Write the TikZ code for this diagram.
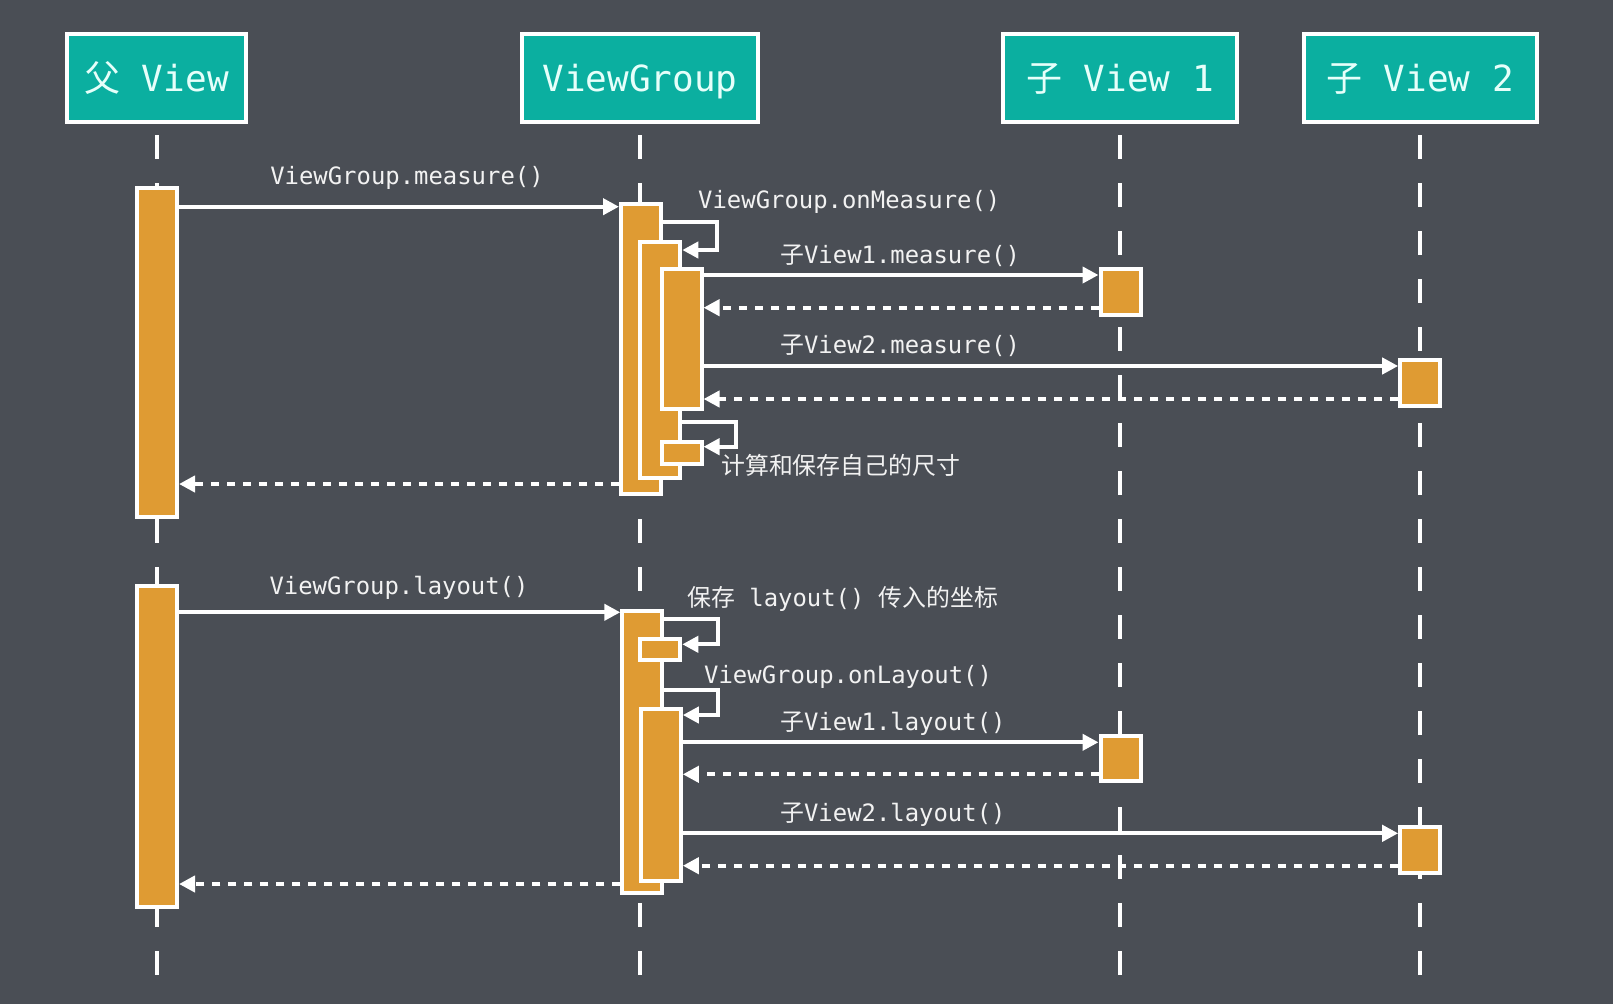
\documentclass[tikz,border=0pt]{standalone}
\usepackage{fontspec}
\usepackage{tikz}
\usetikzlibrary{arrows.meta,calc}

\newfontfamily\monofont{DejaVu Sans Mono}
\newfontfamily\cjk{Noto Sans CJK SC}

\definecolor{bgc}{HTML}{4A4E55}
\definecolor{tealc}{HTML}{0BAFA0}
\definecolor{orangec}{HTML}{DF9B33}
\definecolor{txtc}{HTML}{F2F2F2}
\definecolor{headtxt}{HTML}{E6FFFA}

\begin{document}
\begin{tikzpicture}[x=1pt, y=-1pt,
    head/.style={draw=white, line width=4pt, fill=tealc, text=headtxt, inner sep=0pt,
      minimum height=88pt, text height=30pt, text depth=3pt,
      font=\fontsize{36}{40}\selectfont\monofont},
    act/.style={draw=white, line width=4pt, fill=orangec, inner sep=0pt, minimum width=40pt},
    life/.style={draw=white, line width=4pt, dash pattern=on 24pt off 24pt},
    call/.style={draw=white, line width=4pt, -{Triangle[length=16pt,width=16pt]}},
    ret/.style={call, dash pattern=on 8pt off 8pt},
    lbl/.style={text=txtc, inner sep=0pt, font=\fontsize{23.9}{28}\selectfont\monofont}]

  \fill[bgc] (0,0) rectangle (1613,1004);
  \useasboundingbox (0,0) rectangle (1613,1004);

  % headers
  \node[head, minimum width=179pt] (pv) at (156.5,78) {{\cjk 父} View};
  \node[head, minimum width=236pt] (vg) at (640,78) {ViewGroup};
  \node[head, minimum width=234pt] (c1) at (1120,78) {{\cjk 子} View 1};
  \node[head, minimum width=233pt] (c2) at (1420,78) {{\cjk 子} View 2};

  % lifelines
  \foreach \n in {pv,vg,c1,c2}
    \draw[life] ([yshift=-11pt]\n.south) -- (\n.south |- 0,975);

  % measure
  \node[act, minimum height=329pt] (pm) at (157,352.5) {};
  \node[act, minimum height=290pt] (vgm) at (641,349) {};
  \node[act, minimum height=236pt] (onm) at (660.3,360) {};
  \node[act, minimum height=139.4pt] (inr) at (681.5,339) {};
  \node[act, minimum height=21.7pt] (calc) at (681.5,452.9) {};
  \node[act, minimum height=46pt] (c1m) at (1120.5,291.7) {};
  \node[act, minimum height=46pt] (c2m) at (1420.2,382.7) {};

  % layout
  \node[act, minimum height=321pt] (pl) at (157,746.5) {};
  \node[act, minimum height=281.7pt] (vgl) at (642.3,752.2) {};
  \node[act, minimum height=21pt] (save) at (660.3,649.8) {};
  \node[act, minimum height=171.4pt] (onl) at (660.8,795) {};
  \node[act, minimum height=45.3pt] (c1l) at (1120.5,758.7) {};
  \node[act, minimum height=46pt] (c2l) at (1420.2,850) {};

  % measure messages
  \draw[call] (pm.east |- 0,206.7) -- (vgm.west |- 0,206.7);
  \draw[call] (vgm.east |- 0,222) -- ++(54,0) |- (onm.east |- 0,250);
  \draw[call] (inr.east |- 0,275) -- (c1m.west |- 0,275);
  \draw[ret] (c1m.west |- 0,307.7) -- (inr.east |- 0,307.7);
  \draw[call] (inr.east |- 0,366) -- (c2m.west |- 0,366);
  \draw[ret] (c2m.west |- 0,399) -- (inr.east |- 0,399);
  \draw[call] (onm.east |- 0,422) -- ++(53.4,0) |- (calc.east |- 0,446.7);
  \draw[ret] (vgm.west |- 0,484) -- (pm.east |- 0,484);

  % layout messages
  \draw[call] (pl.east |- 0,612.3) -- (vgl.west |- 0,612.3);
  \draw[call] (vgl.east |- 0,619) -- ++(53.7,0) |- (save.east |- 0,644.3);
  \draw[call] (vgl.east |- 0,690) -- ++(53.7,0) |- (onl.east |- 0,715);
  \draw[call] (onl.east |- 0,742.3) -- (c1l.west |- 0,742.3);
  \draw[ret] (c1l.west |- 0,774.3) -- (onl.east |- 0,774.3);
  \draw[call] (onl.east |- 0,833.3) -- (c2l.west |- 0,833.3);
  \draw[ret] (c2l.west |- 0,865.7) -- (onl.east |- 0,865.7);
  \draw[ret] (vgl.west |- 0,884) -- (pl.east |- 0,884);

  % labels
  \node[lbl, anchor=base] (lmeasure) at (407,184.3) {ViewGroup.measure()};
  \node[lbl, anchor=base west] (lonmeasure) at (698,208.7) {ViewGroup.onMeasure()};
  \node[lbl, anchor=base west] (lc1m) at (780,263) {{\cjk 子}View1.measure()};
  \node[lbl, anchor=base west] (lc2m) at (780,353.5) {{\cjk 子}View2.measure()};
  \node[lbl, anchor=base west] (lcalc) at (721,474) {\cjk 计算和保存自己的尺寸};
  \node[lbl, anchor=base] (llayout) at (399,594) {ViewGroup.layout()};
  \node[lbl, anchor=base west] (lsave) at (687,606) {{\cjk 保存} layout() {\cjk 传入的坐标}};
  \node[lbl, anchor=base west] (lonlayout) at (704,683.7) {ViewGroup.onLayout()};
  \node[lbl, anchor=base west] (lc1l) at (780,730) {{\cjk 子}View1.layout()};
  \node[lbl, anchor=base west] (lc2l) at (780,821) {{\cjk 子}View2.layout()};
\end{tikzpicture}
\end{document}
